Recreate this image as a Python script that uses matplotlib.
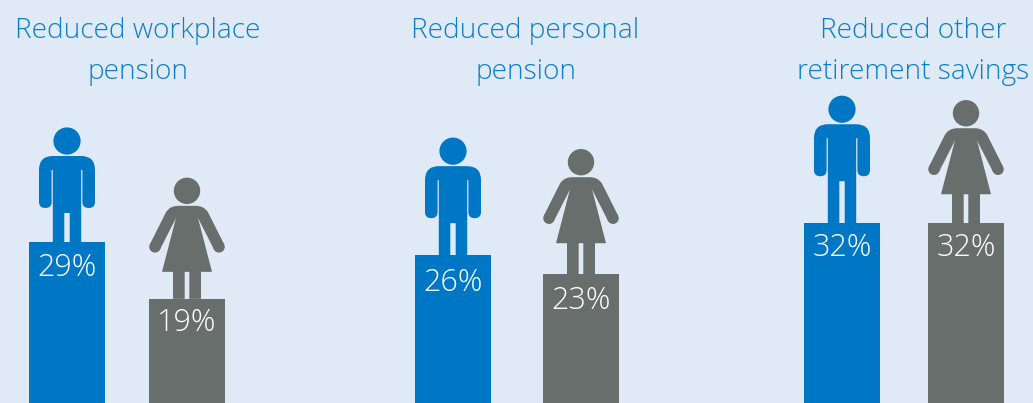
import matplotlib
matplotlib.use("Agg")
import matplotlib.pyplot as plt
from matplotlib.path import Path
from matplotlib.patches import PathPatch, Circle
from matplotlib.transforms import Affine2D

groups = ["Reduced workplace\npension", "Reduced personal\npension", "Reduced other\nretirement savings"]
labels = ["29%", "19%", "26%", "23%", "32%", "32%"]
bar_heights = [28.75, 18.6, 26.4, 23.0, 32.1, 32.1]
genders = ["m", "f", "m", "f", "m", "f"]

BG, BLUE, GRAY, TITLE = "#E0EAF6", "#0077C4", "#676E6B", "#0C7FC8"
centers = [67, 187, 453, 581, 842, 966]
title_x = [138, 525.5, 913.5]
leg_extra = [0, 0, 3, 4, 13, 2]
label_drop = [26.5, 24.5, 27.5, 26.5, 24.5, 24.5]
PX = 5.6
FONT = ["Open Sans", "DejaVu Sans"]

fig = plt.figure(figsize=(10.33, 4.03), dpi=100, facecolor=BG)
ax = fig.add_axes([0, 0, 1, 1], facecolor=BG)
ax.set_xlim(0, 1033)
ax.set_ylim(0, 403 / PX)
ax.axis("off")

colors = [BLUE if g == "m" else GRAY for g in genders]
ax.bar(centers, bar_heights, width=76, color=colors, linewidth=0)

M, L, C = Path.MOVETO, Path.LINETO, Path.CURVE3


def man_path(lift):
    v = [(-14.2, 0), (-14.2, 72), (-15.4, 72), (-15.4, 40), (-15.4, 34), (-21.7, 34),
         (-28, 34), (-28, 40), (-28, 72), (-28, 86), (-14, 86), (14, 86), (28, 86),
         (28, 72), (28, 40), (28, 34), (21.7, 34), (15.4, 34), (15.4, 40), (15.4, 72),
         (14.2, 72), (14.2, 0), (2.7, 0), (2.7, 29), (-2.7, 29), (-2.7, 0), (-14.2, 0)]
    c = [M, L, L, L, C, C, C, C, L, C, C, L, C, C, L, C, C, C, C, L, L, L, L, L, L, L, L]
    return Path([(x, y + lift if y > 0 else y) for x, y in v], c)


def woman_path(lift):
    v = [(-14, 0), (-14, 27), (-25, 27), (-12.3, 76), (-10.9, 81), (-27, 49.4), (-37.1, 54.6),
         (-21, 86.6), (-17, 93), (-9, 93), (9, 93), (17, 93), (21, 86.6), (37.1, 54.6),
         (27, 49.4), (10.9, 81), (12.3, 76), (25, 27), (14, 27), (14, 0), (2.3, 0),
         (2.3, 27), (-2.3, 27), (-2.3, 0), (-14, 0)]
    c = [M, L, L, L, L, L, L, L, C, C, L, C, C, L, L, L, L, L, L, L, L, L, L, L, L]
    return Path([(x, y + lift if y > 0 else y) for x, y in v], c)


def draw_icon(cx, h, gender, color, lift):
    x0, y0 = ax.transData.transform((cx, h))
    tr = Affine2D().translate(x0, y0)
    path = man_path(lift) if gender == "m" else woman_path(lift)
    ax.add_patch(PathPatch(path, facecolor=color, edgecolor="none", transform=tr, clip_on=False))
    head_y, r = (101, 13.6) if gender == "m" else (108, 13.2)
    ax.add_patch(Circle((0, head_y + lift), r, facecolor=color, edgecolor="none", transform=tr, clip_on=False))
    if gender == "f":
        for sx in (-1, 1):
            ax.add_patch(Circle((sx * 32, 52 + lift), 5.75, facecolor=color, edgecolor="none",
                                transform=tr, clip_on=False))


for cx, h, g, col, lab, lift, drop in zip(centers, bar_heights, genders, colors, labels, leg_extra, label_drop):
    draw_icon(cx, h, g, col, lift)
    ax.annotate(lab, (cx, h), xytext=(0, -drop * 0.72), textcoords="offset points",
                ha="center", va="center", color="white", fontsize=22, family=FONT, fontweight="light")

for tx, t in zip(title_x, groups):
    ax.text(tx, (403 - 51.5) / PX, t, ha="center", va="center", color=TITLE, fontsize=20.2,
            family=FONT, fontweight="light", linespacing=1.6)

fig.savefig("out.png", dpi=100, facecolor=BG)
